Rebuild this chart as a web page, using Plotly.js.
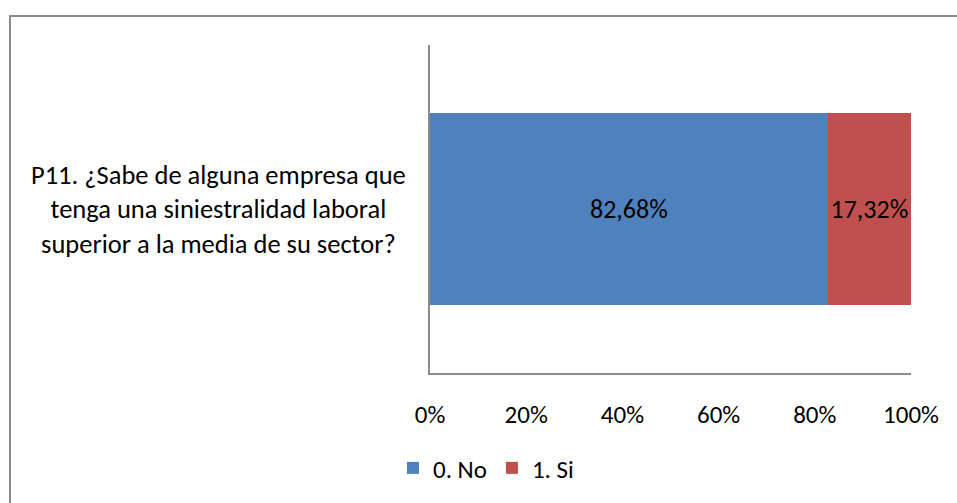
<!DOCTYPE html>
<html>
<head>
<meta charset="utf-8">
<script src="https://cdn.plot.ly/plotly-3.0.1.min.js"></script>
<style>
html,body{margin:0;padding:0;background:#fff;overflow:hidden;width:957px;height:503px;}
#hline{position:absolute;left:9px;top:15px;width:948px;height:2px;background:#8c8c8c;}
#vline{position:absolute;left:9px;top:15px;width:2px;height:488px;background:#8c8c8c;}
#chart{position:absolute;left:0;top:0;width:957px;height:503px;}
</style>
</head>
<body>
<div id="hline"></div>
<div id="vline"></div>
<div id="chart"></div>
<script>
const categories = ["P11"];
const categoryLabel = "P11. ¿Sabe de alguna empresa que<br>tenga una siniestralidad laboral<br>superior a la media de su sector?";
const seriesNames = ["0. No", "1. Si"];
const noValues = [82.68];
const siValues = [17.32];
const xTickValues = [0, 20, 40, 60, 80, 100];

const FONT = "Carlito, Calibri, 'Noto Sans', sans-serif";

const traces = [
  {type:'bar', orientation:'h', name:seriesNames[0], y:categories, x:noValues,
   marker:{color:'#4F81BD'}, text:noValues, texttemplate:'%{x:.2f}%', textposition:'inside', textangle:0,
   insidetextanchor:'middle', constraintext:'none', textfont:{family:FONT,size:26,color:'#000'}, hoverinfo:'none'},
  {type:'bar', orientation:'h', name:seriesNames[1], y:categories, x:siValues,
   marker:{color:'#C0504D'}, text:siValues, texttemplate:'%{x:.2f}%', textposition:'inside', textangle:0,
   insidetextanchor:'middle', constraintext:'none', textfont:{family:FONT,size:26,color:'#000'}, hoverinfo:'none'}
];

const layout = {
  width:957, height:503,
  margin:{l:430, r:46, t:45, b:123},
  paper_bgcolor:'rgba(0,0,0,0)', plot_bgcolor:'rgba(0,0,0,0)',
  barmode:'stack', bargap:0.415,
  separators:',.',
  font:{family:FONT, size:25, color:'#000'},
  showlegend:true,
  legend:{orientation:'h', traceorder:'normal', x:-0.077, xanchor:'left', y:-0.29, yanchor:'middle',
          font:{family:FONT,size:25,color:'#000'}, itemwidth:30, tracegroupgap:0},
  xaxis:{range:[0,100], tickvals:xTickValues, ticktext:xTickValues.map(v=>v+'%'),
         showgrid:false, zeroline:false, showline:true, linecolor:'#8c8c8c', linewidth:2,
         ticks:'outside', ticklen:18, tickcolor:'rgba(0,0,0,0)', fixedrange:true,
         tickfont:{family:FONT,size:25,color:'#000'}},
  yaxis:{showticklabels:false, showgrid:false, zeroline:false, showline:true,
         linecolor:'#8c8c8c', linewidth:2, ticks:'', fixedrange:true},
  annotations:[{xref:'paper', yref:'y', x:-0.045, y:categories[0], xanchor:'right', yanchor:'middle',
                text:categoryLabel, align:'center', showarrow:false,
                font:{family:FONT,size:26.5,color:'#000'}}]
};

Plotly.newPlot('chart', traces, layout, {displayModeBar:false, staticPlot:true});
</script>
</body>
</html>
